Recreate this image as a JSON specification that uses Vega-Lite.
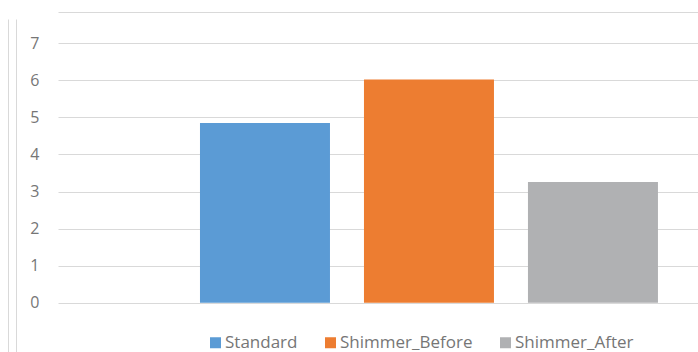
{
  "$schema": "https://vega.github.io/schema/vega-lite/v6.json",
  "autosize": {"type": "none"},
  "padding": {"left": 58, "top": 19, "right": 0, "bottom": 0},
  "width": 640,
  "height": 333,
  "background": "white",
  "config": {"view": {"stroke": null}, "font": "Open Sans"},
  "data": {
    "values": [
      {"series": "Standard", "value": 4.85},
      {"series": "Shimmer_Before", "value": 6.02},
      {"series": "Shimmer_After", "value": 3.26}
    ]
  },
  "resolve": {"axis": {"y": "independent"}},
  "layer": [
    {
      "mark": {"type": "bar"},
      "encoding": {
        "x": {
          "field": "series",
          "type": "nominal",
          "sort": ["Standard", "Shimmer_Before", "Shimmer_After"],
          "scale": {"paddingInner": 0.2073, "paddingOuter": 0.555, "align": 0.78},
          "axis": {"orient": "top", "offset": 7, "labels": false, "ticks": false, "grid": false, "domainColor": "#d9d9d9", "title": null}
        },
        "y": {
          "field": "value",
          "type": "quantitative",
          "scale": {"domain": [-1.33, 7.655], "nice": false, "zero": false},
          "axis": {
            "orient": "left",
            "offset": 42,
            "values": [0, 1, 2, 3, 4, 5, 6, 7],
            "grid": true,
            "gridColor": "#d9d9d9",
            "gridWidth": 1.2,
            "domain": true,
            "domainColor": "#d9d9d9",
            "ticks": false,
            "labelPadding": -23,
            "labelFontSize": 16,
            "labelColor": "#767676",
            "labelFont": "Open Sans",
            "title": null
          }
        },
        "y2": {"datum": 0},
        "color": {
          "field": "series",
          "type": "nominal",
          "scale": {
            "domain": ["Standard", "Shimmer_Before", "Shimmer_After"],
            "range": ["#5b9bd5", "#ed7d31", "#b0b1b3"]
          },
          "legend": {
            "orient": "none",
            "legendX": 149,
            "legendY": 315,
            "direction": "horizontal",
            "title": null,
            "symbolType": "square",
            "symbolSize": 121,
            "symbolStrokeWidth": 0,
            "labelFontSize": 17,
            "labelColor": "#767676",
            "labelFont": "Open Sans",
            "columnPadding": 24,
            "labelOffset": 1,
            "padding": 0
          }
        }
      }
    },
    {
      "mark": {"type": "point", "opacity": 0, "size": 0},
      "encoding": {
        "x": {
          "field": "series",
          "type": "nominal",
          "sort": ["Standard", "Shimmer_Before", "Shimmer_After"]
        },
        "y": {
          "field": "value",
          "type": "quantitative",
          "axis": {"orient": "left", "offset": 50, "labels": false, "ticks": false, "grid": false, "domainColor": "#d9d9d9", "title": null}
        }
      }
    }
  ]
}
